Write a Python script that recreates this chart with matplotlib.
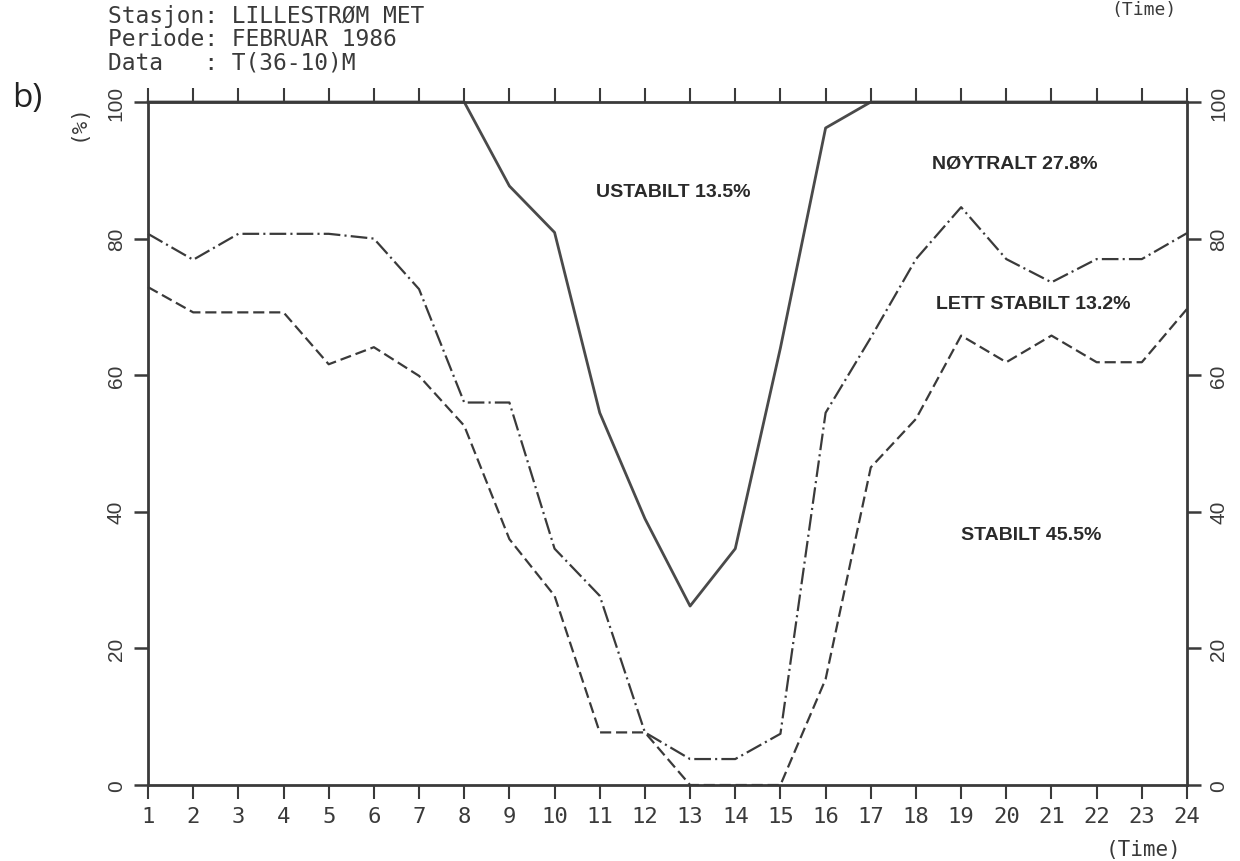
import numpy as np
import matplotlib
matplotlib.use('Agg')
import matplotlib.pyplot as plt

# data: cumulative stability classes (%), per hour
timer = list(range(1, 25))
ustabilt_grense = [100, 100, 100, 100, 100, 100, 100, 100, 87.7, 80.9, 54.5, 39.0,
                   26.2, 34.6, 64.0, 96.2, 100, 100, 100, 100, 100, 100, 100, 100]
noytralt_grense = [80.7, 76.9, 80.7, 80.7, 80.7, 80.0, 72.6, 56.0, 56.0, 34.6, 27.7, 7.7,
                   3.8, 3.8, 7.5, 54.5, 65.5, 77.0, 84.6, 77.0, 73.6, 77.0, 77.0, 80.8]
stabilt_grense = [72.9, 69.2, 69.2, 69.2, 61.6, 64.1, 59.9, 52.6, 36.0, 27.7, 7.7, 7.7,
                  0, 0, 0, 15.5, 46.5, 53.6, 65.8, 61.9, 65.8, 61.9, 61.9, 69.7]
yticks = [0, 20, 40, 60, 80, 100]
klasser = ['USTABILT 13.5%', 'NØYTRALT 27.8%', 'LETT STABILT 13.2%', 'STABILT 45.5%']
klasse_pos = [(12.62, 86.9), (20.19, 91.0), (20.60, 70.5), (20.56, 36.7)]

plt.rcParams['lines.scale_dashes'] = False
ink = '#3a3a3a'
mono = 'DejaVu Sans Mono'
sans = ['Liberation Sans', 'DejaVu Sans']

fig = plt.figure(figsize=(12.4, 8.62), dpi=100)
ax = fig.add_axes([148/1240, 1-786/862, (1187-148)/1240, (786-103)/862])

ax.plot(timer, ustabilt_grense, color='#4a4a4a', lw=2.0, clip_on=False)
ax.plot(timer, noytralt_grense, color=ink, lw=1.6, dashes=(12, 3, 1.5, 3), clip_on=False)
ax.plot(timer, stabilt_grense, color=ink, lw=1.6, dashes=(8, 3.5), clip_on=False)

for txt, (x, y) in zip(klasser, klasse_pos):
    ax.text(x, y, txt, ha='center', va='center', fontsize=14, fontweight='bold',
            color='#2a2a2a', family=sans)

ax.set_xlim(1, 24)
ax.set_ylim(0, 100)
ax.set_xticks(timer)
ax.set_xticklabels([str(t) for t in timer], fontsize=16, family=mono, color=ink)
ax.set_yticks(yticks)
ax.set_yticklabels([str(v) for v in yticks], rotation=90, va='center', fontsize=15,
                   family=sans, color=ink)
ax.tick_params(axis='x', direction='out', length=10, width=1.5, color=ink,
               top=True, labeltop=False, pad=5)
ax.tick_params(axis='y', direction='out', length=10, width=1.8, color=ink,
               right=True, labelright=True, pad=6)
for lab in ax.get_yticklabels(which='both'):
    lab.set_rotation(90)
    lab.set_va('center')
for s in ax.spines.values():
    s.set_linewidth(2.0)
    s.set_color(ink)

# header text
fig.text(108/1240, 1-17/862, 'Stasjon: LILLESTRØM MET', family=mono, fontsize=16.5,
         va='center', color=ink)
fig.text(108/1240, 1-40/862, 'Periode: FEBRUAR 1986', family=mono, fontsize=16.5,
         va='center', color=ink)
fig.text(108/1240, 1-63/862, 'Data   : T(36-10)M', family=mono, fontsize=16.5,
         va='center', color=ink)
fig.text(12/1240, 1-99/862, 'b)', family=['Open Sans', 'DejaVu Sans'], fontsize=24,
         va='center', color='#222222')
fig.text(78/1240, 1-122/862, '(%)', family=mono, fontsize=15, rotation=90,
         ha='center', va='center', color=ink)
fig.text(1144/1240, 1-850/862, '(Time)', family=mono, fontsize=15, ha='center',
         va='center', color=ink)
fig.text(1144/1240, 1-1/862, '(Time)', family=mono, fontsize=13, ha='center',
         va='top', color=ink)

fig.savefig('out.png', dpi=100)
